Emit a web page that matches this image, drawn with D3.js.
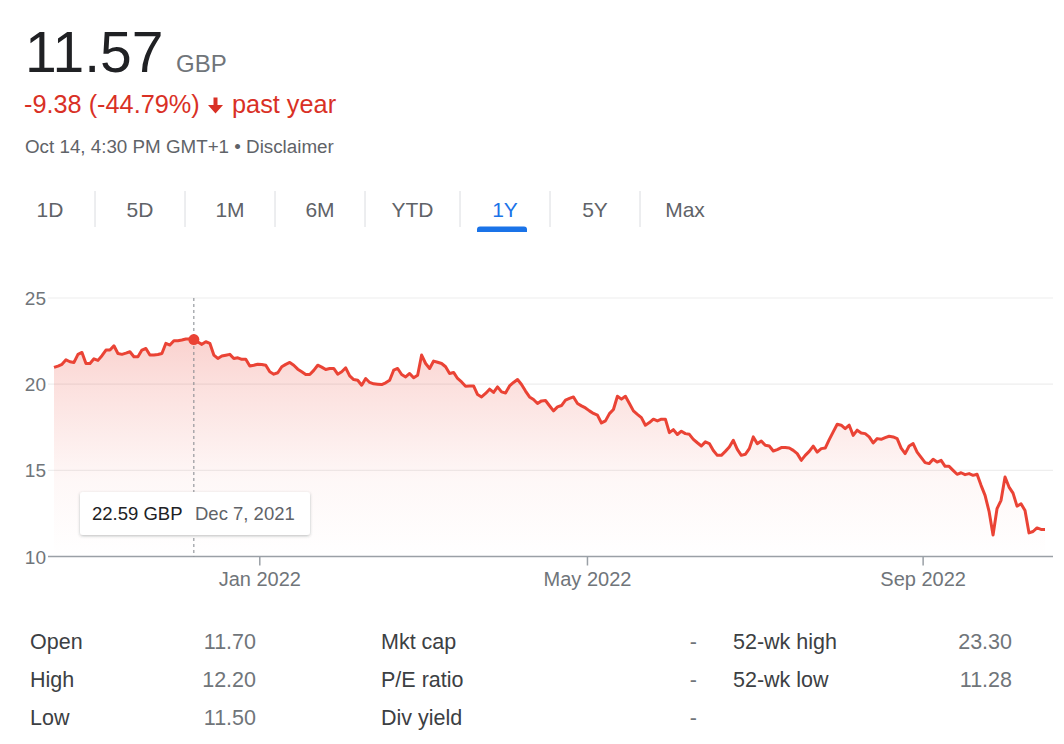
<!DOCTYPE html>
<html>
<head>
<meta charset="utf-8">
<script src="https://cdn.jsdelivr.net/npm/d3@7"></script>
<style>
  html, body { margin: 0; padding: 0; background: #fff; }
  svg { display: block; font-family: "Liberation Sans", Arial, sans-serif; }
</style>
</head>
<body>
<div id="chart"></div>
<script>
const svgWidth = 1064;
const svgHeight = 744;

// daily closes (GBP), one per LSE session from 19 Oct 2021 to 14 Oct 2022
const closes = [
  20.97, 21.05, 21.15, 21.41, 21.3, 21.26, 21.73, 21.84, 21.2, 21.2,
  21.47, 21.38, 21.65, 21.98, 21.98, 22.23, 21.78, 21.73, 21.8, 21.88,
  21.59, 21.59, 21.98, 22.07, 21.69, 21.69, 21.72, 21.78, 22.37, 22.27,
  22.52, 22.52, 22.56, 22.62, 22.62, 22.59, 22.45, 22.31, 22.46, 22.37,
  21.69, 21.49, 21.63, 21.68, 21.73, 21.49, 21.53, 21.44, 21.44, 21.05,
  21.1, 21.16, 21.14, 21.1, 20.72, 20.58, 20.66, 21.01, 21.15, 21.26,
  21.1, 20.87, 20.72, 20.56, 20.56, 20.8, 21.1, 20.99, 20.85, 20.91,
  20.91, 20.58, 20.72, 20.95, 20.48, 20.27, 20.23, 19.94, 20.33, 20.1,
  20.02, 20.0, 19.98, 20.08, 20.23, 20.81, 20.91, 20.56, 20.42, 20.62,
  20.37, 20.52, 21.69, 21.2, 20.91, 21.34, 21.27, 21.2, 21.01, 20.62,
  20.68, 20.33, 20.13, 19.88, 19.89, 19.9, 19.4, 19.26, 19.46, 19.71,
  19.52, 19.84, 19.55, 19.49, 19.9, 20.1, 20.27, 19.98, 19.6, 19.26,
  19.11, 18.88, 19.03, 19.05, 18.75, 18.45, 18.68, 18.76, 19.07, 19.17,
  19.26, 18.88, 18.74, 18.62, 18.45, 18.3, 18.2, 17.75, 17.87, 18.29,
  18.53, 19.3, 19.13, 19.3, 18.88, 18.45, 18.25, 18.06, 17.62, 17.77,
  17.97, 17.87, 17.97, 17.97, 17.19, 17.36, 17.08, 17.27, 17.13, 17.09,
  16.8, 16.6, 16.41, 16.65, 16.55, 16.15, 15.87, 15.87, 16.1, 16.35,
  16.74, 16.22, 15.87, 15.93, 16.26, 16.94, 16.55, 16.7, 16.45, 16.41,
  16.12, 16.2, 16.32, 16.32, 16.3, 16.16, 15.97, 15.58, 15.87, 16.1,
  16.4, 16.06, 16.26, 16.29, 16.78, 17.23, 17.67, 17.62, 17.42, 17.62,
  17.03, 17.33, 17.17, 17.13, 16.94, 16.59, 16.84, 16.8, 16.9, 16.98,
  16.94, 16.84, 16.29, 15.97, 16.41, 16.55, 16.06, 15.75, 15.45, 15.39,
  15.64, 15.48, 15.58, 15.23, 15.23, 15.0, 14.77, 14.86, 14.75, 14.81,
  14.71, 14.77, 14.13, 13.55, 12.62, 11.25, 12.78, 13.26, 14.61, 14.03,
  13.68, 12.92, 13.06, 12.67, 11.37, 11.45, 11.66, 11.57, 11.57,
];

const firstSession = "2021-10-19";
const lastSession = "2022-10-14";
const marketHolidays = [
  "2021-12-27", "2021-12-28", "2022-01-03", "2022-04-15", "2022-04-18",
  "2022-05-02", "2022-06-02", "2022-06-03", "2022-08-29", "2022-09-19",
];

const yTicks = [10, 15, 20, 25];
const xTickMonths = ["2022-01", "2022-05", "2022-09"];
const xTickLabels = ["Jan 2022", "May 2022", "Sep 2022"];

const hoverDate = "2021-12-07";

const lastPrice = "11.57";
const currency = "GBP";
const changeText = "-9.38 (-44.79%)";
const changePeriod = "past year";
const stampText = "Oct 14, 4:30 PM GMT+1 • Disclaimer";

const rangeTabs = ["1D", "5D", "1M", "6M", "YTD", "1Y", "5Y", "Max"];
const activeTab = "1Y";

const statsLeft = [["Open", "11.70"], ["High", "12.20"], ["Low", "11.50"]];
const statsMid = [["Mkt cap", "-"], ["P/E ratio", "-"], ["Div yield", "-"]];
const statsRight = [["52-wk high", "23.30"], ["52-wk low", "11.28"]];

// ---- sessions ----
const parseDay = d3.timeParse("%Y-%m-%d");
const fmtDay = d3.timeFormat("%Y-%m-%d");
const fmtMonth = d3.timeFormat("%Y-%m");
const fmtTip = d3.timeFormat("%b %-d, %Y");

const sessions = d3.timeDay
  .range(parseDay(firstSession), d3.timeDay.offset(parseDay(lastSession), 1))
  .filter((d) => d.getDay() % 6 !== 0 && !marketHolidays.includes(fmtDay(d)));

const data = closes.map((v, i) => ({ i, date: sessions[i], close: v }));

const svg = d3
  .select("#chart")
  .append("svg")
  .attr("width", svgWidth)
  .attr("height", svgHeight)
  .attr("viewBox", `0 0 ${svgWidth} ${svgHeight}`);

const defs = svg.append("defs");

const grad = defs
  .append("linearGradient")
  .attr("id", "areaFill")
  .attr("gradientUnits", "userSpaceOnUse")
  .attr("x1", 0).attr("x2", 0)
  .attr("y1", 298).attr("y2", 557);
[[0, 0.3], [0.35, 0.16], [0.7, 0.04], [1, 0]].forEach(([o, a]) => {
  grad.append("stop").attr("offset", o).attr("stop-color", "#ea4335").attr("stop-opacity", a);
});

const shadow = defs.append("filter").attr("id", "tipShadow")
  .attr("x", "-10%").attr("y", "-30%").attr("width", "120%").attr("height", "170%");
shadow.append("feDropShadow")
  .attr("dx", 0).attr("dy", 1).attr("stdDeviation", 1.6)
  .attr("flood-color", "#3c4043").attr("flood-opacity", 0.35);

// ---- header ----
const header = svg.append("g");

header.append("text")
  .attr("x", 25).attr("y", 72)
  .attr("font-size", "57px").attr("fill", "#202124")
  .text(lastPrice);

header.append("text")
  .attr("x", 176).attr("y", 72)
  .attr("font-size", "24px").attr("fill", "#70757a")
  .text(currency);

header.append("text")
  .attr("x", 24).attr("y", 113)
  .attr("font-size", "25.3px").attr("fill", "#d93025")
  .text(changeText);

header.append("path")
  .attr("d", "M213.5 97.5h4v7.5h5.5l-7.5 8.5l-7.5 -8.5h5.5z")
  .attr("fill", "#d93025");

header.append("text")
  .attr("x", 232).attr("y", 113)
  .attr("font-size", "25.3px").attr("fill", "#d93025")
  .text(changePeriod);

header.append("text")
  .attr("x", 25).attr("y", 153)
  .attr("font-size", "18.8px").attr("fill", "#5f6368")
  .text(stampText);

// ---- range tabs ----
const tabEdges = [5, 95, 185, 275, 365, 460, 550, 640, 730];
const tabs = svg.append("g");

rangeTabs.forEach((t, k) => {
  const cx = (tabEdges[k] + tabEdges[k + 1]) / 2;
  tabs.append("text")
    .attr("x", cx).attr("y", 216.5)
    .attr("text-anchor", "middle")
    .attr("font-size", "21px")
    .attr("fill", t === activeTab ? "#1a73e8" : "#5f6368")
    .text(t);
  if (k > 0) {
    tabs.append("line")
      .attr("x1", tabEdges[k]).attr("x2", tabEdges[k])
      .attr("y1", 191).attr("y2", 227)
      .attr("stroke", "#dadce0").attr("stroke-width", 1);
  }
  if (t === activeTab) {
    tabs.append("path")
      .attr("d", `M${cx - 28} 232v-2.5a3 3 0 0 1 3 -3h44a3 3 0 0 1 3 3v2.5z`)
      .attr("fill", "#1a73e8");
  }
});

// ---- chart ----
const xScale = d3.scaleLinear().domain([0, closes.length - 1]).range([54, 1045]);
const yScale = d3.scaleLinear().domain([10, 25]).range([556.5, 298]);

const plot = svg.append("g");

plot.append("g")
  .selectAll("line")
  .data(yTicks.filter((v) => v > 10))
  .join("line")
  .attr("x1", 48).attr("x2", 1053)
  .attr("y1", (d) => yScale(d)).attr("y2", (d) => yScale(d))
  .attr("stroke", "#eeeeee").attr("stroke-width", 1.2);

plot.append("g")
  .selectAll("text")
  .data(yTicks)
  .join("text")
  .attr("x", 46)
  .attr("y", (d) => yScale(d) + 7)
  .attr("text-anchor", "end")
  .attr("font-size", "19px")
  .attr("fill", "#70757a")
  .text((d) => d);

const area = d3.area()
  .x((d) => xScale(d.i))
  .y0(yScale(10))
  .y1((d) => yScale(d.close));

plot.append("path")
  .datum(data)
  .attr("d", area)
  .attr("fill", "url(#areaFill)");

// x axis baseline + ticks (between last session of a month and first of the next)
const tickIdx = xTickMonths.map((m) => data.findIndex((d) => fmtMonth(d.date) === m) - 0.5);

plot.append("line")
  .attr("x1", 48).attr("x2", 1053)
  .attr("y1", yScale(10)).attr("y2", yScale(10))
  .attr("stroke", "#9aa0a6").attr("stroke-width", 1.5);

const xTicks = plot.append("g")
  .selectAll("g")
  .data(tickIdx)
  .join("g")
  .attr("transform", (d) => `translate(${xScale(d)},${yScale(10)})`);

xTicks.append("line")
  .attr("y1", 0).attr("y2", 9)
  .attr("stroke", "#9aa0a6").attr("stroke-width", 1.5);

xTicks.append("text")
  .attr("y", 29)
  .attr("text-anchor", "middle")
  .attr("font-size", "20px")
  .attr("fill", "#70757a")
  .text((d, k) => xTickLabels[k]);

const line = d3.line()
  .x((d) => xScale(d.i))
  .y((d) => yScale(d.close));

// hover state
const hovered = data.find((d) => fmtDay(d.date) === hoverDate);

plot.append("line")
  .attr("x1", xScale(hovered.i)).attr("x2", xScale(hovered.i))
  .attr("y1", yScale(25)).attr("y2", yScale(10))
  .attr("stroke", "#80868b").attr("stroke-width", 1)
  .attr("stroke-dasharray", "3,3");

plot.append("path")
  .datum(data)
  .attr("d", line)
  .attr("fill", "none")
  .attr("stroke", "#ea4335")
  .attr("stroke-width", 3)
  .attr("stroke-linejoin", "round");

plot.append("circle")
  .attr("cx", xScale(hovered.i))
  .attr("cy", yScale(hovered.close))
  .attr("r", 5.5)
  .attr("fill", "#ea4335");

const tip = plot.append("g").attr("transform", "translate(80,492)");
tip.append("rect")
  .attr("width", 230).attr("height", 43).attr("rx", 3)
  .attr("fill", "#fff")
  .attr("filter", "url(#tipShadow)");
tip.append("text")
  .attr("x", 12).attr("y", 28)
  .attr("font-size", "18.5px").attr("fill", "#202124")
  .text(`${hovered.close.toFixed(2)} ${currency}`);
tip.append("text")
  .attr("x", 115).attr("y", 28)
  .attr("font-size", "18.5px").attr("fill", "#5f6368")
  .text(fmtTip(hovered.date));

// ---- key stats ----
const statCols = [
  { rows: statsLeft, labelX: 30, valueX: 256 },
  { rows: statsMid, labelX: 381, valueX: 697 },
  { rows: statsRight, labelX: 733, valueX: 1012 },
];

const stats = svg.append("g");
statCols.forEach((col) => {
  col.rows.forEach(([label, value], r) => {
    const y = 649 + r * 38;
    stats.append("text")
      .attr("x", col.labelX).attr("y", y)
      .attr("font-size", "21.5px").attr("fill", "#3c4043")
      .text(label);
    stats.append("text")
      .attr("x", col.valueX).attr("y", y)
      .attr("text-anchor", "end")
      .attr("font-size", "21.5px").attr("fill", "#70757a")
      .text(value);
  });
});
</script>
</body>
</html>
